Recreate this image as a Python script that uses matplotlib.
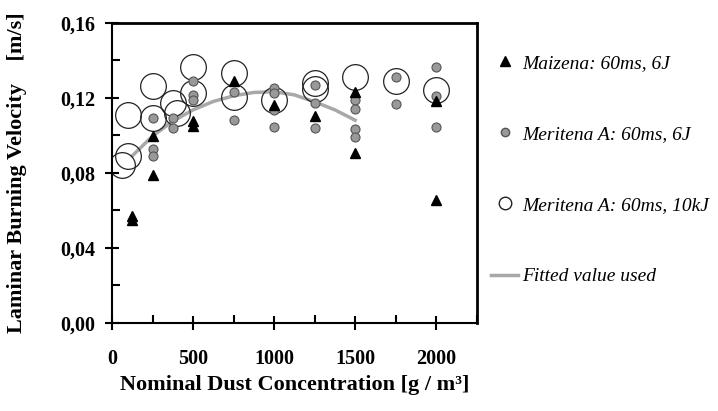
import matplotlib.pyplot as plt
from matplotlib.lines import Line2D
from matplotlib.ticker import MultipleLocator, FuncFormatter

plt.rcParams['font.family'] = 'Liberation Serif'

# Maizena: 60ms, 6J
maiz_x = [125, 125, 250, 250, 500, 500, 750, 1000, 1250, 1500, 1500, 2000, 2000]
maiz_y = [0.057, 0.055, 0.079, 0.0995, 0.105, 0.1076, 0.129, 0.116, 0.110, 0.123, 0.0905, 0.118, 0.0655]

# Meritena A: 60ms, 6J
mer6_x = [250, 250, 250, 375, 375, 500, 500, 500, 750, 750,
          1000, 1000, 1000, 1000, 1250, 1250, 1250,
          1500, 1500, 1500, 1500, 1750, 1750, 2000, 2000, 2000]
mer6_y = [0.109, 0.0926, 0.089, 0.109, 0.1037, 0.129, 0.1214, 0.1188, 0.108, 0.123,
          0.125, 0.1223, 0.1134, 0.1042, 0.1268, 0.117, 0.1037,
          0.1188, 0.1138, 0.1031, 0.0989, 0.1312, 0.1165, 0.1365, 0.121, 0.1045]

# Meritena A: 60ms, 10kJ
mer10_x = [60, 100, 100, 250, 250, 375, 400, 500, 500, 750, 750,
           1000, 1250, 1250, 1500, 1750, 2000]
mer10_y = [0.084, 0.089, 0.111, 0.126, 0.109, 0.117, 0.112, 0.1365, 0.1223, 0.133, 0.1205,
           0.1188, 0.128, 0.1248, 0.131, 0.129, 0.124]

# fitted curve
fit_x = [125, 250, 375, 500, 625, 750, 875, 1000, 1125, 1250, 1375, 1500]
fit_y = [0.089, 0.0995, 0.1075, 0.1135, 0.118, 0.121, 0.1228, 0.1232, 0.1215, 0.1178, 0.1135, 0.108]

fig = plt.figure(figsize=(7.18, 4.11), dpi=100)
ax = fig.add_axes([0.156, 0.2148, 0.508, 0.730])

ax.plot(fit_x, fit_y, color='#a8a8a8', lw=2.5, zorder=1)
ax.plot(mer10_x, mer10_y, 'o', ms=18.5, mfc='none', mec='#222222', mew=0.9, zorder=2)
ax.plot(mer6_x, mer6_y, 'o', ms=6.5, mfc='#999999', mec='#555555', mew=0.8, zorder=3)
ax.plot(maiz_x, maiz_y, '^', ms=7, color='black', zorder=4)

ax.set_xlim(0, 2250)
ax.set_ylim(0, 0.16)
ax.xaxis.set_major_locator(MultipleLocator(500))
ax.xaxis.set_minor_locator(MultipleLocator(250))
ax.yaxis.set_major_locator(MultipleLocator(0.04))
ax.yaxis.set_minor_locator(MultipleLocator(0.02))
ax.yaxis.set_major_formatter(FuncFormatter(lambda v, p: f'{v:.2f}'.replace('.', ',')))

ax.tick_params(which='major', direction='inout', length=10, width=1.5)
ax.tick_params(which='minor', direction='in', length=6, width=1.5)
ax.tick_params(axis='x', which='major', pad=14, labelsize=14.5)
ax.tick_params(axis='y', which='major', pad=7, labelsize=14.5)
for lab in ax.get_xticklabels() + ax.get_yticklabels():
    lab.set_fontweight('bold')
for s in ax.spines.values():
    s.set_linewidth(1.5)
ax.spines['top'].set_linewidth(2)
ax.spines['right'].set_linewidth(2)

ax.set_xlabel('Nominal Dust Concentration [g / m³]', fontsize=16, fontweight='bold', labelpad=4)
ax.set_ylabel('Laminar Burning Velocity    [m/s]', fontsize=16, fontweight='bold', labelpad=24)

handles = [
    Line2D([], [], ls='none', marker='^', ms=7, color='black'),
    Line2D([], [], ls='none', marker='o', ms=6, mfc='#999999', mec='#555555'),
    Line2D([], [], ls='none', marker='o', ms=9, mfc='none', mec='#222222'),
    Line2D([], [], color='#a8a8a8', lw=2.5),
]
labels = ['Maizena: 60ms, 6J', 'Meritena A: 60ms, 6J', 'Meritena A: 60ms, 10kJ', 'Fitted value used']
fig.legend(handles, labels, loc='upper left', bbox_to_anchor=(0.66, 0.91), frameon=False,
           prop={'style': 'italic', 'size': 14}, labelspacing=2.75, handlelength=1.35, handletextpad=0.25)

fig.savefig('out.png', dpi=100)
